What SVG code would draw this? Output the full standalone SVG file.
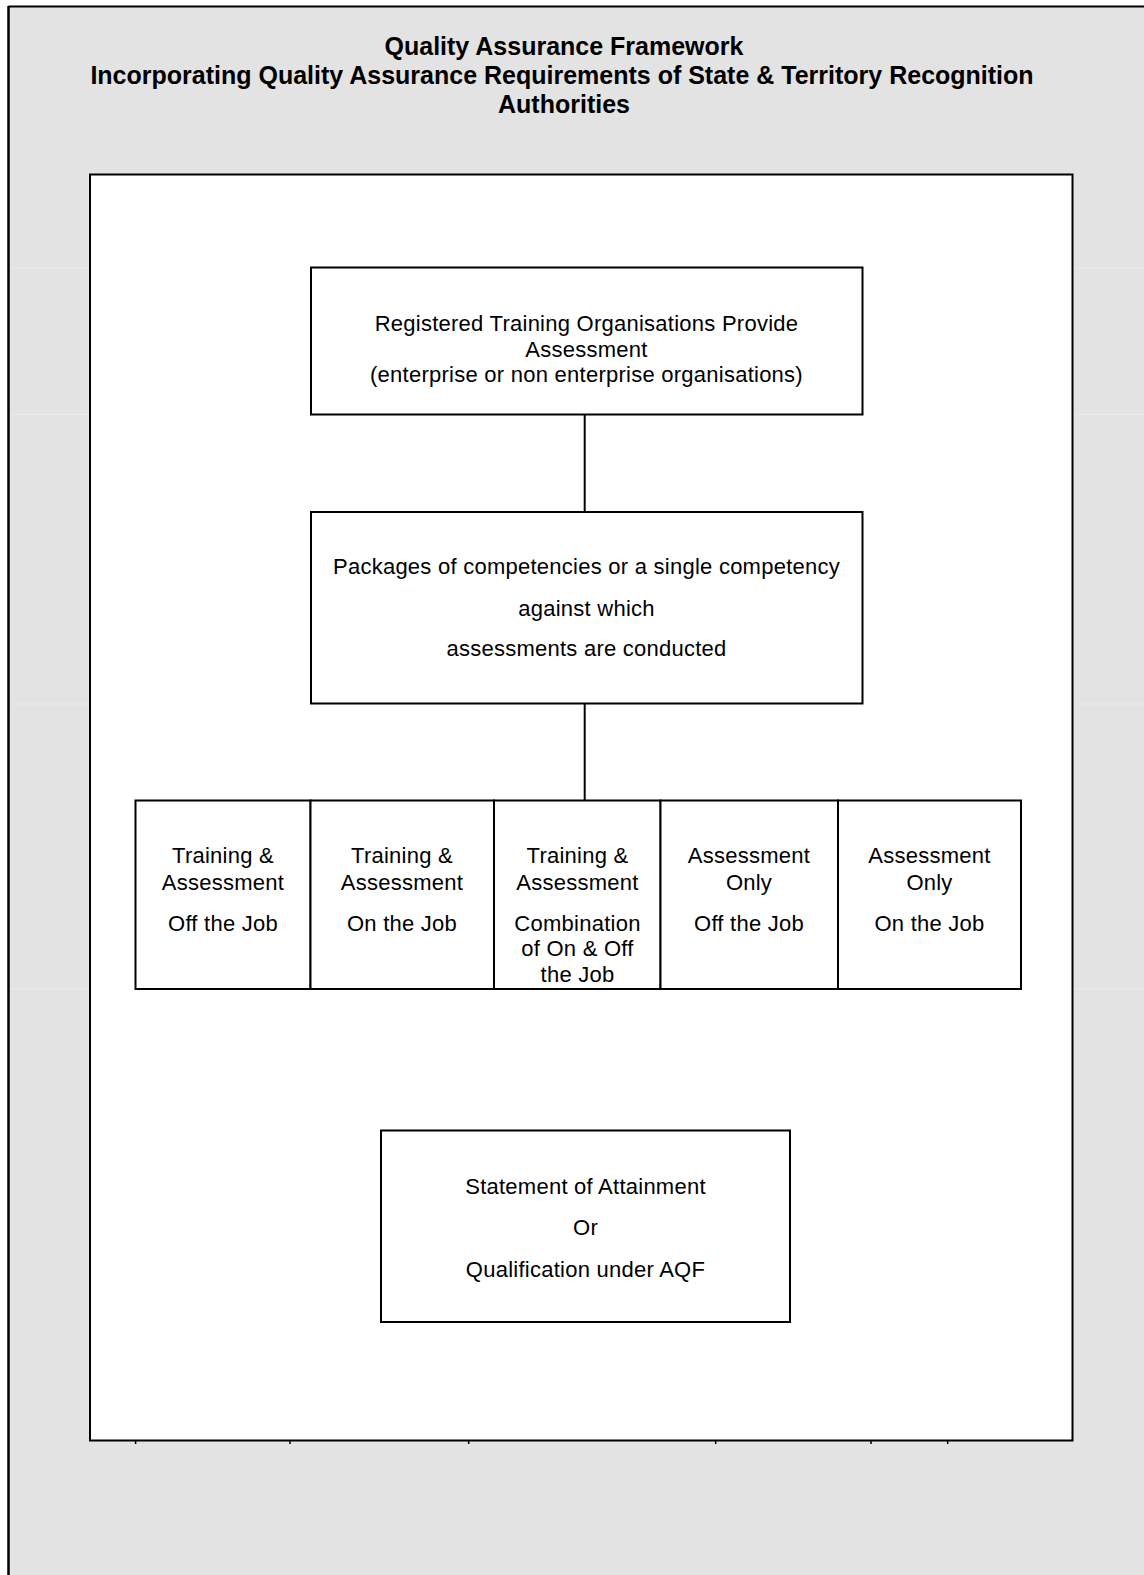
<svg xmlns="http://www.w3.org/2000/svg" width="1144" height="1575" viewBox="0 0 1144 1575">
<style>
.t{font-family:"Liberation Sans",Arial,sans-serif;font-size:22px;letter-spacing:0.25px;fill:#000;text-anchor:middle}
.title{font-family:"Liberation Sans",Arial,sans-serif;font-size:25px;font-weight:bold;fill:#000;text-anchor:middle}
.box{fill:#fff;stroke:#000;stroke-width:2}
.conn{stroke:#000;stroke-width:2;fill:none}
.faint{stroke:#ebebeb;stroke-width:1}
.tick{stroke:#000;stroke-width:1.5}
</style>
<rect x="0" y="0" width="1144" height="1575" fill="#fff"/>
<rect x="8" y="6" width="1136" height="1569" fill="#e3e3e3"/>
<g id="faint-grid">
<line class="faint" x1="10" y1="268" x2="88" y2="268"/>
<line class="faint" x1="10" y1="414.5" x2="88" y2="414.5"/>
<line class="faint" x1="10" y1="704" x2="88" y2="704"/>
<line class="faint" x1="10" y1="989" x2="88" y2="989"/>
<line class="faint" x1="1074" y1="268" x2="1144" y2="268"/>
<line class="faint" x1="1074" y1="414.5" x2="1144" y2="414.5"/>
<line class="faint" x1="1074" y1="704" x2="1144" y2="704"/>
<line class="faint" x1="1074" y1="989" x2="1144" y2="989"/>
</g>
<g id="outer-frame">
<line x1="8.5" y1="6.5" x2="1144" y2="6.5" stroke="#000" stroke-width="2"/>
<line x1="8.5" y1="6" x2="8.5" y2="1575" stroke="#000" stroke-width="2.5"/>
</g>
<g id="title">
<text class="title" x="564" y="55">Quality Assurance Framework</text>
<text class="title" x="562" y="84">Incorporating Quality Assurance Requirements of State &amp; Territory Recognition</text>
<text class="title" x="564" y="113">Authorities</text>
</g>
<g id="inner-frame">
<rect x="90" y="174.5" width="982.5" height="1266" fill="#fff" stroke="#000" stroke-width="2"/>
<line class="tick" x1="135.6" y1="1441" x2="135.6" y2="1444"/>
<line class="tick" x1="290" y1="1441" x2="290" y2="1444"/>
<line class="tick" x1="468.7" y1="1441" x2="468.7" y2="1444"/>
<line class="tick" x1="715.7" y1="1441" x2="715.7" y2="1444"/>
<line class="tick" x1="871" y1="1441" x2="871" y2="1444"/>
<line class="tick" x1="947.7" y1="1441" x2="947.7" y2="1444"/>
</g>
<g id="connectors">
<line class="conn" x1="584.7" y1="414.5" x2="584.7" y2="512"/>
<line class="conn" x1="584.7" y1="703.5" x2="584.7" y2="800.5"/>
</g>
<g id="node-rto">
<rect class="box" x="311" y="267.5" width="551.5" height="147"/>
<text class="t" x="586.5" y="331">Registered Training Organisations Provide</text>
<text class="t" x="586.5" y="356.5">Assessment</text>
<text class="t" x="586.5" y="382">(enterprise or non enterprise organisations)</text>
</g>
<g id="node-packages">
<rect class="box" x="311" y="512" width="551.5" height="191.5"/>
<text class="t" x="586.5" y="574">Packages of competencies or a single competency</text>
<text class="t" x="586.5" y="615.5">against which</text>
<text class="t" x="586.5" y="656">assessments are conducted</text>
</g>
<g id="node-ta-off">
<rect class="box" x="135.5" y="800.5" width="175" height="188.5"/>
<text class="t" x="223" y="863">Training &amp;</text>
<text class="t" x="223" y="889.5">Assessment</text>
<text class="t" x="223" y="930.5">Off the Job</text>
</g>
<g id="node-ta-on">
<rect class="box" x="310.5" y="800.5" width="183.5" height="188.5"/>
<text class="t" x="402" y="863">Training &amp;</text>
<text class="t" x="402" y="889.5">Assessment</text>
<text class="t" x="402" y="930.5">On the Job</text>
</g>
<g id="node-ta-comb">
<rect class="box" x="494" y="800.5" width="166.5" height="188.5"/>
<text class="t" x="577.5" y="863">Training &amp;</text>
<text class="t" x="577.5" y="889.5">Assessment</text>
<text class="t" x="577.5" y="930.5">Combination</text>
<text class="t" x="577.5" y="956">of On &amp; Off</text>
<text class="t" x="577.5" y="981.5">the Job</text>
</g>
<g id="node-ao-off">
<rect class="box" x="660.5" y="800.5" width="177.5" height="188.5"/>
<text class="t" x="749" y="863">Assessment</text>
<text class="t" x="749" y="889.5">Only</text>
<text class="t" x="749" y="930.5">Off the Job</text>
</g>
<g id="node-ao-on">
<rect class="box" x="838" y="800.5" width="183" height="188.5"/>
<text class="t" x="929.5" y="863">Assessment</text>
<text class="t" x="929.5" y="889.5">Only</text>
<text class="t" x="929.5" y="930.5">On the Job</text>
</g>
<g id="node-statement">
<rect class="box" x="381" y="1130.5" width="409" height="191.5"/>
<text class="t" x="585.5" y="1193.5">Statement of Attainment</text>
<text class="t" x="585.5" y="1235">Or</text>
<text class="t" x="585.5" y="1276.5">Qualification under AQF</text>
</g>
</svg>
